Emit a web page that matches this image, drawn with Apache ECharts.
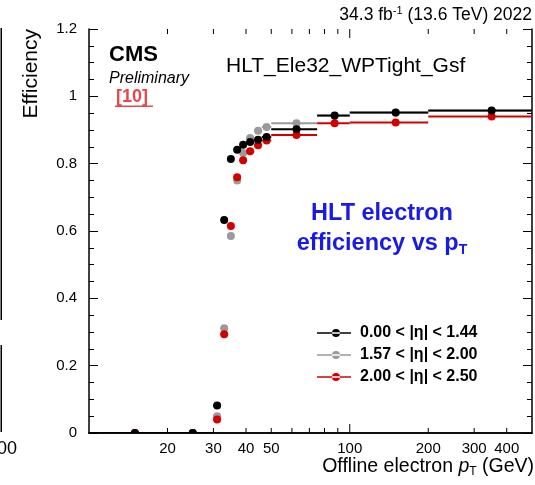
<!DOCTYPE html>
<html><head><meta charset="utf-8">
<script src="https://cdn.jsdelivr.net/npm/echarts@6/dist/echarts.min.js"></script>
<style>html,body{margin:0;padding:0;background:#fff}#c{width:535px;height:485px}</style>
</head><body><div id="c"></div>
<script>
// ---- data ----
const binLow    = [10, 20, 30, 32, 34, 36, 38, 40,   43,   46, 50,   75,   100, 200];
const binHigh   = [20, 30, 32, 34, 36, 38, 40, 43,   46,   50, 75,   100,  200, 500];
const binCenter = [15, 25, 31, 33, 35, 37, 39, 41.5, 44.5, 48, 62.5, 87.5, 150, 350];
const effBarrel     = [0, 0, 0.082, 0.633, 0.814, 0.841, 0.856, 0.864, 0.871, 0.879, 0.902, 0.943, 0.952, 0.958];
const effEndcapLow  = [0, 0, 0.050, 0.311, 0.585, 0.750, 0.832, 0.876, 0.898, 0.909, 0.920, 0.942, 0.951, 0.957];
const effEndcapHigh = [0, 0, 0.040, 0.293, 0.615, 0.760, 0.810, 0.837, 0.855, 0.869, 0.885, 0.920, 0.922, 0.940];
const seriesNames = ['0.00 < |η| < 1.44', '1.57 < |η| < 2.00', '2.00 < |η| < 2.50'];
const xTickLabels = [20, 30, 40, 50, 100, 200, 300, 400];
const xShortTicks = [20, 30, 40, 50, 60, 70, 80, 90, 200, 300, 400];
const xLongTicks  = [100];

const FONT = 'Liberation Sans, Arial, Helvetica, sans-serif';
const colors = ['#000000', '#9a9a9a', '#d40000'];

function rows(eff) { return binCenter.map((c, i) => [c, eff[i], binLow[i], binHigh[i]]); }
function renderBinned(color) {
  return function (params, api) {
    const c = api.coord([api.value(0), api.value(1)]);
    const l = api.coord([api.value(2), api.value(1)]);
    const r = api.coord([api.value(3), api.value(1)]);
    return { type: 'group', children: [
      { type: 'line', shape: { x1: l[0], y1: l[1], x2: r[0], y2: r[1] }, style: { stroke: color, lineWidth: 2 } },
      { type: 'circle', shape: { cx: c[0], cy: c[1], r: 4 }, style: { fill: color } }
    ] };
  };
}
// inward x-axis tick marks (bottom and top), positioned through the log axis
function renderXTick(params, api) {
  const b = api.coord([api.value(0), 0]);
  const t = api.coord([api.value(0), 1.2]);
  const len = api.value(1);
  return { type: 'group', children: [
    { type: 'rect', shape: { x: b[0] - 0.5, y: b[1] - len, width: 1, height: len }, style: { fill: '#000' } },
    { type: 'rect', shape: { x: t[0] - 0.5, y: t[1], width: 1, height: len }, style: { fill: '#000' } }
  ] };
}
const legendIcon = 'path://M0,3.2h34v1.6h-34z M15,4a4,4 0 1,0 8,0a4,4 0 1,0 -8,0z';

const grid = { left: 89, right: 3, top: 29, bottom: 52 };
const baseX = { type: 'log', logBase: 10, min: 10, max: 500, gridIndex: 0, splitLine: { show: false } };
const yAxisCommon = { type: 'value', min: 0, max: 1.2, interval: 0.2,
  axisLine: { show: true, lineStyle: { color: '#000', width: 1.5 } },
  axisTick: { show: true, inside: true, length: 9, lineStyle: { color: '#000' } },
  minorTick: { show: true, splitNumber: 4, length: 5, lineStyle: { color: '#000' } },
  splitLine: { show: false } };
const chart = echarts.init(document.getElementById('c'), null, { renderer: 'canvas' });
chart.setOption({
  animation: false, backgroundColor: '#fff', grid: grid,
  xAxis: [
    Object.assign({}, baseX, { position: 'bottom',
      axisLine: { show: true, lineStyle: { color: '#000', width: 1.5 } }, axisTick: { show: false },
      axisLabel: { show: true, customValues: xTickLabels, color: '#000', fontSize: 15, fontFamily: FONT, margin: 8 } }),
    Object.assign({}, baseX, { position: 'top',
      axisLine: { show: true, lineStyle: { color: '#000', width: 1.5 } }, axisTick: { show: false }, axisLabel: { show: false } })
  ],
  yAxis: [
    Object.assign({}, yAxisCommon, { position: 'left', axisLabel: { color: '#000', fontSize: 15, fontFamily: FONT, margin: 12 } }),
    Object.assign({}, yAxisCommon, { position: 'right', axisLabel: { show: false } })
  ],
  legend: {
    orient: 'vertical', left: 317, top: 325, padding: 0, itemWidth: 34, itemHeight: 8, itemGap: 6,
    data: seriesNames.map(n => ({ name: n, icon: legendIcon })),
    textStyle: { color: '#000', fontSize: 16, fontWeight: 'bold', fontFamily: FONT, padding: [0, 0, 0, 4], lineHeight: 16 }
  },
  series: [
    { type: 'custom', name: 'xticks', xAxisIndex: 0, yAxisIndex: 0, clip: false, z: 5,
      renderItem: renderXTick, encode: { x: 0, y: 1 },
      data: xShortTicks.map(v => [v, 5]).concat(xLongTicks.map(v => [v, 9])) },
    { type: 'custom', name: seriesNames[1], itemStyle: { color: colors[1] }, renderItem: renderBinned(colors[1]), encode: { x: [0, 2, 3], y: 1 }, data: rows(effEndcapLow), clip: true, z: 2 },
    { type: 'custom', name: seriesNames[2], itemStyle: { color: colors[2] }, renderItem: renderBinned(colors[2]), encode: { x: [0, 2, 3], y: 1 }, data: rows(effEndcapHigh), clip: true, z: 3 },
    { type: 'custom', name: seriesNames[0], itemStyle: { color: colors[0] }, renderItem: renderBinned(colors[0]), encode: { x: [0, 2, 3], y: 1 }, data: rows(effBarrel), clip: true, z: 4 }
  ]
});
chart.setOption({
  graphic: [
    { type: 'text', right: 3, top: 5, style: { text: '{n|34.3 fb}{s|-1}{n| (13.6 TeV) 2022}', fill: '#000',
      rich: { n: { fontSize: 17.5, fontFamily: FONT, fill: '#000' }, s: { fontSize: 11, fontFamily: FONT, fill: '#000', padding: [0, 0, 9, 0] } } } },
    { type: 'text', left: 109, top: 44, style: { text: 'CMS', font: 'bold 22px ' + FONT, fill: '#000' } },
    { type: 'text', left: 109, top: 71, style: { text: 'Preliminary', font: 'italic 16px ' + FONT, fill: '#000' } },
    { type: 'text', left: 116, top: 88, style: { text: '[10]', font: 'bold 18px ' + FONT, fill: '#e8484d' } },
    { type: 'rect', shape: { x: 115, y: 105.5, width: 38, height: 1.5 }, style: { fill: '#e8484d' } },
    { type: 'text', left: 226, top: 56, style: { text: 'HLT_Ele32_WPTight_Gsf', font: '21px ' + FONT, fill: '#000' } },
    { type: 'text', x: 382, y: 199, style: { text: '{b|HLT electron}\n{b|efficiency vs p}{t|T}', align: 'center', fill: '#1a1ae6',
      rich: { b: { fontSize: 23.5, fontWeight: 'bold', fontFamily: FONT, fill: '#1a1ae6', lineHeight: 30 },
              t: { fontSize: 14, fontWeight: 'bold', fontFamily: FONT, fill: '#1a1ae6', padding: [12, 0, 0, 0], lineHeight: 30 } } } },
    { type: 'text', x: 21, y: 29, rotation: Math.PI / 2, style: { text: 'Efficiency', font: '21px ' + FONT, fill: '#000', align: 'right', verticalAlign: 'top' } },
    { type: 'text', right: 1, top: 457, style: { text: '{n|Offline electron }{i|p}{s|T}{n| (GeV)}',
      rich: { n: { fontSize: 19.5, fontFamily: FONT, fill: '#000' }, i: { fontSize: 19.5, fontStyle: 'italic', fontFamily: FONT, fill: '#000' },
              s: { fontSize: 12, fontFamily: FONT, fill: '#000', padding: [10, 0, 0, 0] } } } },
    // cropped neighbouring panel remnants at the left edge
    { type: 'rect', shape: { x: 0.5, y: 28, width: 1.5, height: 292 }, style: { fill: '#000' } },
    { type: 'rect', shape: { x: 0.5, y: 345, width: 1.5, height: 87 }, style: { fill: '#000' } },
    { type: 'text', left: -3, top: 440, style: { text: '00', font: '18px ' + FONT, fill: '#000' } }
  ]
});
</script></body></html>
